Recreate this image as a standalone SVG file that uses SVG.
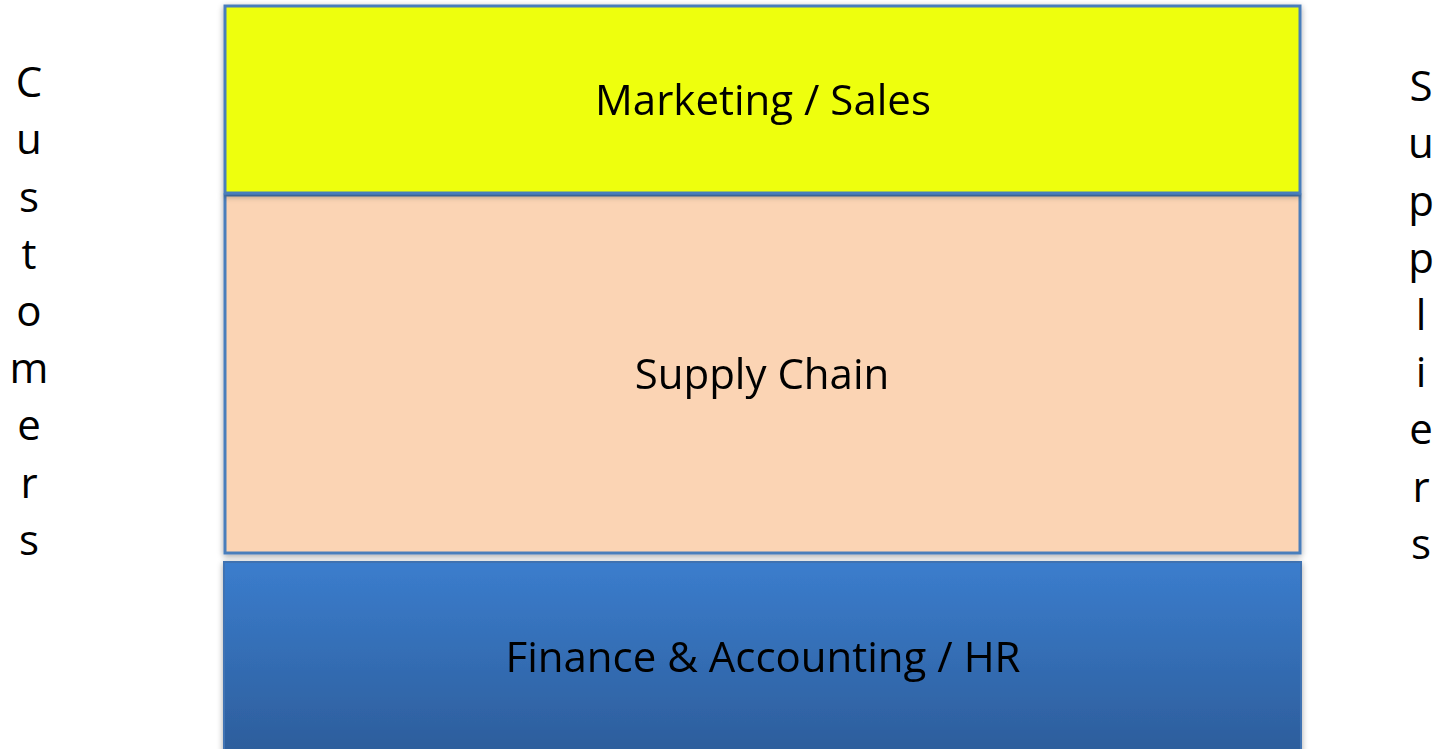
<svg xmlns="http://www.w3.org/2000/svg" width="1441" height="749" viewBox="0 0 1441 749">
<style>
.box{stroke:#4A7EBB;stroke-width:3}
.lbl{font-family:"Open Sans","Liberation Sans",sans-serif;font-size:42px;fill:#000;text-anchor:middle}
.side{font-family:"Open Sans","Liberation Sans",sans-serif;font-size:42px;fill:#000;text-anchor:middle}
</style>
<defs>
<linearGradient id="blue" x1="0" y1="0" x2="0" y2="1">
<stop offset="0" stop-color="#3B7DCD"/>
<stop offset="1" stop-color="#2C5C99"/>
</linearGradient>
<filter id="sh" x="-5%" y="-5%" width="110%" height="115%">
<feGaussianBlur in="SourceAlpha" stdDeviation="3"/>
<feOffset dx="0" dy="2"/>
<feComponentTransfer><feFuncA type="linear" slope="0.35"/></feComponentTransfer>
<feMerge><feMergeNode/><feMergeNode in="SourceGraphic"/></feMerge>
</filter>
</defs>
<g id="finance" filter="url(#sh)">
<rect x="224" y="562" width="1077" height="200" fill="url(#blue)" stroke="#3F73B3" stroke-width="2"/>
<text class="lbl" x="763" y="672">Finance &amp; Accounting / HR</text>
</g>
<g id="supply" filter="url(#sh)">
<rect class="box" x="225" y="195" width="1075" height="358" fill="#FBD4B4"/>
<text class="lbl" x="762" y="389">Supply Chain</text>
</g>
<g id="marketing" filter="url(#sh)">
<rect class="box" x="225" y="6" width="1075" height="187" fill="#EEFF0E"/>
<text class="lbl" x="763" y="115">Marketing / Sales</text>
</g>
<g id="customers">
<text class="side" x="29" y="97">C</text>
<text class="side" x="29" y="154">u</text>
<text class="side" x="29" y="212">s</text>
<text class="side" x="29" y="269">t</text>
<text class="side" x="29" y="326">o</text>
<text class="side" x="29" y="383">m</text>
<text class="side" x="29" y="440">e</text>
<text class="side" x="29" y="498">r</text>
<text class="side" x="29" y="555">s</text>
</g>
<g id="suppliers">
<text class="side" x="1421" y="101">S</text>
<text class="side" x="1421" y="158">u</text>
<text class="side" x="1421" y="216">p</text>
<text class="side" x="1421" y="273">p</text>
<text class="side" x="1421" y="330">l</text>
<text class="side" x="1421" y="387">i</text>
<text class="side" x="1421" y="444">e</text>
<text class="side" x="1421" y="502">r</text>
<text class="side" x="1421" y="559">s</text>
</g>
<g id="connectors"/>
</svg>
